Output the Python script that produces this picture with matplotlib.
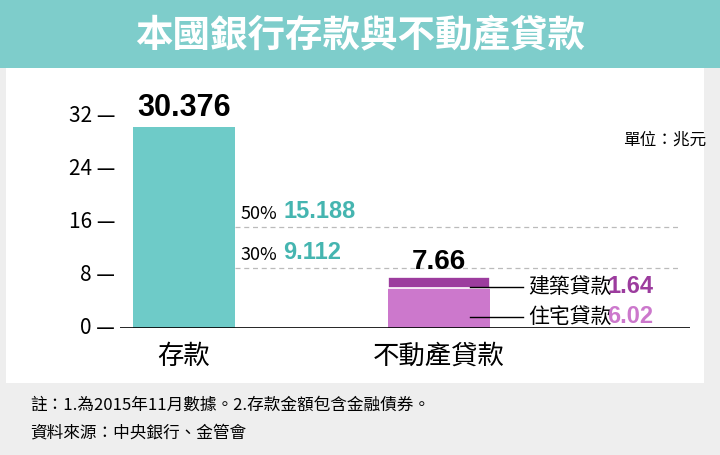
import matplotlib
matplotlib.use("Agg")
import matplotlib.pyplot as plt
from matplotlib.patches import Rectangle

plt.rcParams["font.family"] = "Noto Sans CJK TC"

categories = ["存款", "不動產貸款"]
deposits = 30.376
housing = 6.02
construction = 1.64
loan_total = 7.66
ref_labels = ["50%", "30%"]
ref_values = [15.188, 9.112]
yticks = [0, 8, 16, 24, 32]

W, H = 720, 455
fig = plt.figure(figsize=(W/100, H/100), dpi=100)
fig.patch.set_facecolor("#eeeeee")

def fx(px): return px / W
def fy(py): return 1 - py / H

fig.patches.append(Rectangle((fx(6), fy(383)), fx(698), (383-68)/H, transform=fig.transFigure,
                             facecolor="white", edgecolor="none", zorder=-5))
fig.patches.append(Rectangle((0, fy(68)), 1, 68/H, transform=fig.transFigure,
                             facecolor="#7ecdcb", edgecolor="none", zorder=-5))
fig.text(0.5, fy(36), "本國銀行存款與不動產貸款", ha="center", va="center",
         color="white", fontsize=27, fontweight="bold")

ax = fig.add_axes([fx(120), fy(328), fx(690-120), (328-116)/H])
ax.set_zorder(5)
ax.patch.set_alpha(0)
ax.set_xlim(-0.251, 1.984)
ax.set_ylim(0, 32)
ax.axis("off")

teal = "#6ecbc8"
dark_p = "#9c3c9e"
light_p = "#cc78cc"
ax.bar(0, deposits, width=0.4, color=teal)
ax.bar(1, housing, width=0.4, color=light_p)
ax.bar(1, construction, width=0.4, bottom=housing, color=dark_p, edgecolor="white", linewidth=1.2)
ax.axhline(0, color="black", lw=1.2)
for v in ref_values:
    ax.plot([0.2, 1.94], [v, v], ls=(0, (4, 3)), color="#bbbbbb", lw=0.9, zorder=0)

for t in yticks:
    ax.text(-0.27, t, f"{t} —", ha="right", va="center", fontsize=15, clip_on=False)

ax.text(0, deposits + 0.5, f"{deposits:.3f}", ha="center", va="bottom", fontsize=22,
        fontweight="bold", family="Liberation Sans")
ax.text(1, loan_total + 0.3, f"{loan_total:.2f}", ha="center", va="bottom", fontsize=20,
        fontweight="bold", family="Liberation Sans")
for lab, v in zip(ref_labels, ref_values):
    ax.text(0.22, v + 0.6, lab, ha="left", va="bottom", fontsize=13)
    ax.text(0.39, v + 0.6, f"{v:.3f}", ha="left", va="bottom", fontsize=17, fontweight="bold",
            color="#45b5b0", family="Liberation Sans")

for lab, val, col, yy in [("建築貸款", construction, dark_p, housing + construction - 1.4),
                          ("住宅貸款", housing, light_p, 1.7)]:
    ax.plot([1.12, 1.33], [yy, yy], color="black", lw=1)
    ax.text(1.35, yy, lab, ha="left", va="center", fontsize=15)
    ax.text(1.66, yy, f"{val:.2f}", ha="left", va="center",
            fontsize=17, fontweight="bold", color=col, family="Liberation Sans")

ax.text(1.72, 28.3, "單位：兆元", ha="left", va="center", fontsize=12)
for i, c in enumerate(categories):
    ax.text(i, -2.2, c, ha="center", va="top", fontsize=19)

fig.text(fx(30), fy(405), "註：1.為2015年11月數據。2.存款金額包含金融債券。", ha="left", va="center", fontsize=12)
fig.text(fx(30), fy(433), "資料來源：中央銀行、金管會", ha="left", va="center", fontsize=12)

fig.savefig("out.png", dpi=100, facecolor=fig.get_facecolor())
